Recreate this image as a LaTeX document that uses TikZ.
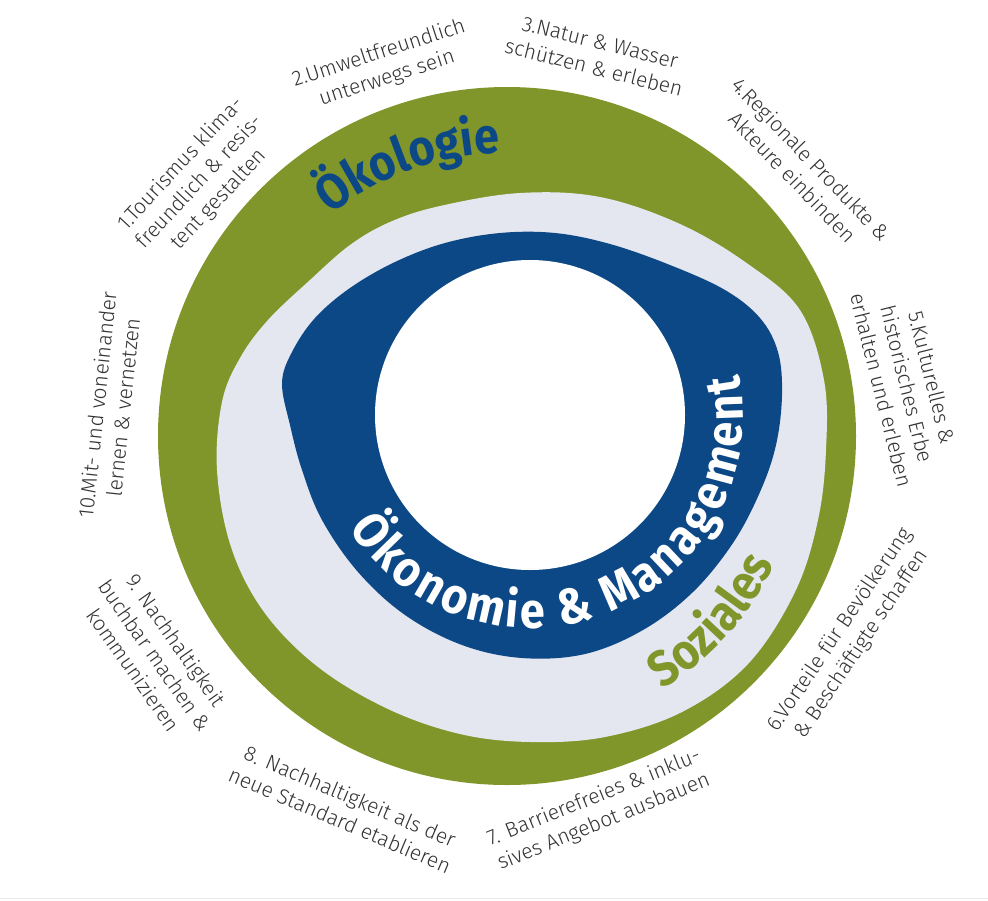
\documentclass[tikz,border=0pt]{standalone}
\usepackage{fontspec}
\setmainfont{Fira Sans}
\newfontfamily\lblfont{Fira Sans Light}
\newfontfamily\headfont{Fira Sans Bold}[FakeStretch=0.9]
\usetikzlibrary{decorations.text}
\definecolor{ogreen}{HTML}{80962A}
\definecolor{dblue}{HTML}{0D4886}
\definecolor{lblue}{HTML}{E4E7F0}
\definecolor{txtgray}{HTML}{333333}
\begin{document}
\begin{tikzpicture}[x=1pt,y=-1pt,
  lbl/.style={font=\lblfont\fontsize{21}{26}\selectfont, text=txtgray, align=center, inner sep=0pt}]
\useasboundingbox (0,0) rectangle (988,900);
\fill[white] (0,0) rectangle (988,900);
\draw[black!8, line width=1pt] (0,898) -- (988,898);
% outer green ring
\fill[ogreen] (507,436) circle[radius=349];
% light region
\fill[lblue] plot[smooth cycle, tension=0.6] coordinates {
 (520,193) (600,197) (680,224) (748,264) (800,310) (824,380) (826,450) (818,520)
 (795,592) (748,664) (682,712) (605,737) (530,742) (460,734) (388,709) (318,667)
 (264,612) (231,547) (217,470) (222,402) (240,358) (268,320) (310,280) (350,245)
 (390,222) (440,206)};
% dark blue blob
\fill[dblue] plot[smooth cycle, tension=0.6] coordinates {
 (282,383) (292,352) (315,318) (350,288) (395,262) (445,243) (500,233) (555,233)
 (610,244) (670,265) (725,290) (760,318) (778,352) (782,395) (776,445) (760,492)
 (733,543) (693,592) (643,630) (585,654) (522,658) (462,645) (405,615) (358,572)
 (322,520) (302,470) (290,425)};
% white centre
\fill[white] (530,415) circle[radius=155];
% curved headings
\coordinate (cring) at (507,436);
\coordinate (cwhite) at (530,415);
\path[decorate, decoration={text along path, text color=white, text align=fit to path,
  text={|\headfont\fontsize{50}{50}\selectfont|Ökonomie {\&} Management}}]
  (cwhite) ++(148:213) arc[start angle=148, end angle=-11, radius=213];
\path[decorate, decoration={text along path, text color=dblue, text align=center,
  text={|\headfont\fontsize{50}{50}\selectfont|Ökologie}}]
  (cring) ++(-132:283) arc[start angle=-132, end angle=-88, radius=283];
\path[decorate, decoration={text along path, text color=ogreen, text align=center,
  text={|\headfont\fontsize{50}{50}\selectfont|Soziales}}]
  (cring) ++(60:297) arc[start angle=60, end angle=24, radius=297];
% labels
\node[lbl, rotate=47] (l1) at (200,182) {1.Tourismus klima-\\freundlich \& resis-\\tent gestalten};
\node[lbl, rotate=18] (l2) at (383,66) {2.Umweltfreundlich\\unterwegs sein};
\node[lbl, rotate=-14] (l3) at (597,55) {3.Natur \& Wasser\\schützen \& erleben};
\node[lbl, rotate=-46] (l4) at (802,168) {4.Regionale Produkte \&\\Akteure einbinden};
\node[lbl, rotate=-76] (l5) at (907,384) {5.Kulturelles \&\\historisches Erbe\\erhalten und erleben};
\node[lbl, rotate=56] (l6) at (851,637) {6.Vorteile für Bevölkerung\\\& Beschäftigte schaffen};
\node[lbl, rotate=22] (l7) at (599,810) {7. Barrierefreies \& inklu-\\sives Angebot ausbauen};
\node[lbl, rotate=-23] (l8) at (345,808) {8. Nachhaltigkeit als der\\neue Standard etablieren};
\node[lbl, rotate=-55] (l9) at (155,655) {9. Nachhaltigkeit\\buchbar machen \&\\kommunizieren};
\node[lbl, rotate=84] (l10) at (110,406) {10.Mit- und voneinander\\lernen \& vernetzen};
\end{tikzpicture}
\end{document}
